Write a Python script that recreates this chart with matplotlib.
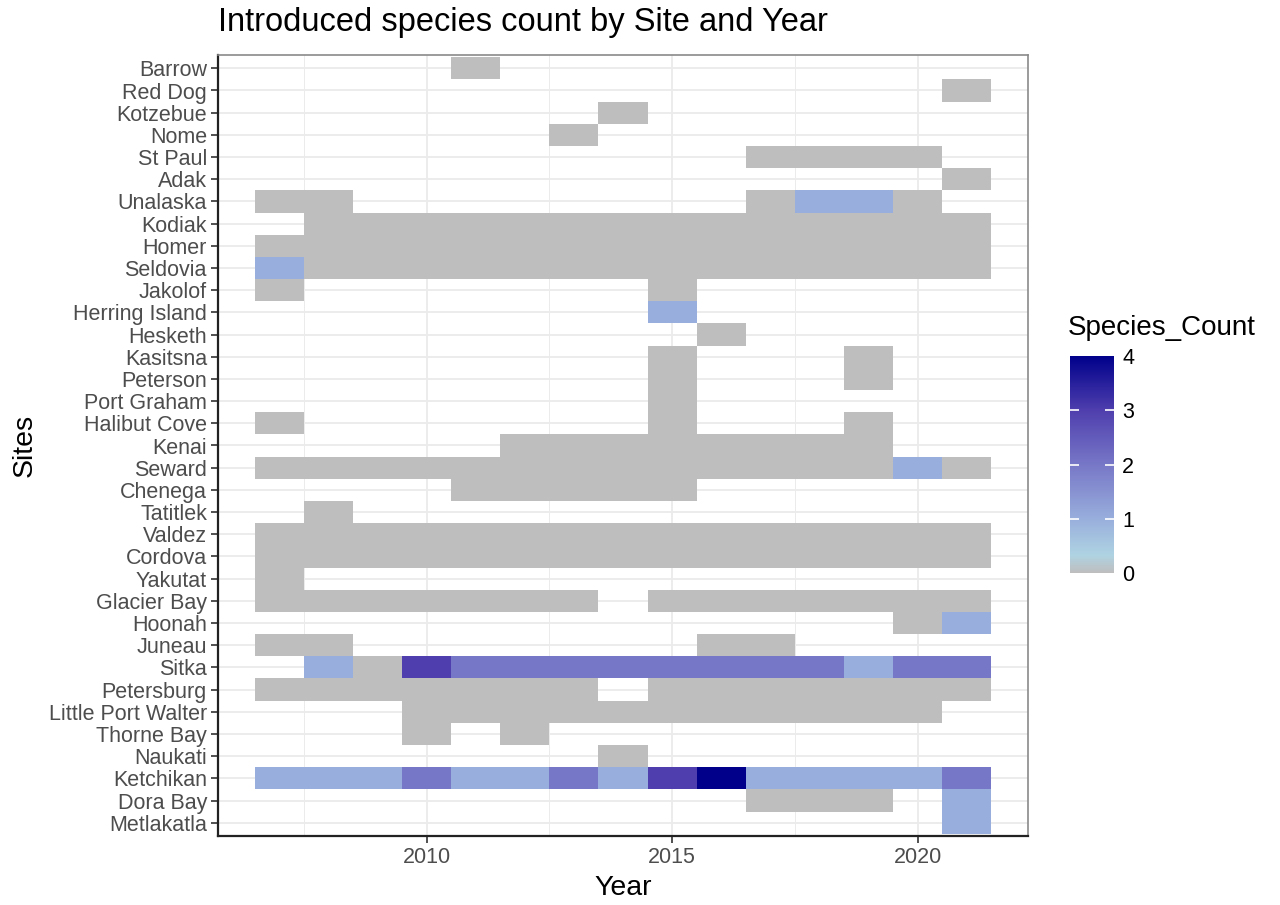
import matplotlib
matplotlib.use("Agg")
import matplotlib.pyplot as plt
import numpy as np
from matplotlib.colors import LinearSegmentedColormap

plt.rcParams['font.family'] = ['Liberation Sans', 'DejaVu Sans']

years = list(range(2007, 2022))
sites = ['Barrow', 'Red Dog', 'Kotzebue', 'Nome', 'St Paul', 'Adak', 'Unalaska',
         'Kodiak', 'Homer', 'Seldovia', 'Jakolof', 'Herring Island', 'Hesketh',
         'Kasitsna', 'Peterson', 'Port Graham', 'Halibut Cove', 'Kenai', 'Seward',
         'Chenega', 'Tatitlek', 'Valdez', 'Cordova', 'Yakutat', 'Glacier Bay',
         'Hoonah', 'Juneau', 'Sitka', 'Petersburg', 'Little Port Walter',
         'Thorne Bay', 'Naukati', 'Ketchikan', 'Dora Bay', 'Metlakatla']

_ = None
# species count per site, columns 2007 ... 2021 (None = not sampled)
counts = [
    [_, _, _, _, 0, _, _, _, _, _, _, _, _, _, _],  # Barrow
    [_, _, _, _, _, _, _, _, _, _, _, _, _, _, 0],  # Red Dog
    [_, _, _, _, _, _, _, 0, _, _, _, _, _, _, _],  # Kotzebue
    [_, _, _, _, _, _, 0, _, _, _, _, _, _, _, _],  # Nome
    [_, _, _, _, _, _, _, _, _, _, 0, 0, 0, 0, _],  # St Paul
    [_, _, _, _, _, _, _, _, _, _, _, _, _, _, 0],  # Adak
    [0, 0, _, _, _, _, _, _, _, _, 0, 1, 1, 0, _],  # Unalaska
    [_, 0, 0, 0, 0, 0, 0, 0, 0, 0, 0, 0, 0, 0, 0],  # Kodiak
    [0, 0, 0, 0, 0, 0, 0, 0, 0, 0, 0, 0, 0, 0, 0],  # Homer
    [1, 0, 0, 0, 0, 0, 0, 0, 0, 0, 0, 0, 0, 0, 0],  # Seldovia
    [0, _, _, _, _, _, _, _, 0, _, _, _, _, _, _],  # Jakolof
    [_, _, _, _, _, _, _, _, 1, _, _, _, _, _, _],  # Herring Island
    [_, _, _, _, _, _, _, _, _, 0, _, _, _, _, _],  # Hesketh
    [_, _, _, _, _, _, _, _, 0, _, _, _, 0, _, _],  # Kasitsna
    [_, _, _, _, _, _, _, _, 0, _, _, _, 0, _, _],  # Peterson
    [_, _, _, _, _, _, _, _, 0, _, _, _, _, _, _],  # Port Graham
    [0, _, _, _, _, _, _, _, 0, _, _, _, 0, _, _],  # Halibut Cove
    [_, _, _, _, _, 0, 0, 0, 0, 0, 0, 0, 0, _, _],  # Kenai
    [0, 0, 0, 0, 0, 0, 0, 0, 0, 0, 0, 0, 0, 1, 0],  # Seward
    [_, _, _, _, 0, 0, 0, 0, 0, _, _, _, _, _, _],  # Chenega
    [_, 0, _, _, _, _, _, _, _, _, _, _, _, _, _],  # Tatitlek
    [0, 0, 0, 0, 0, 0, 0, 0, 0, 0, 0, 0, 0, 0, 0],  # Valdez
    [0, 0, 0, 0, 0, 0, 0, 0, 0, 0, 0, 0, 0, 0, 0],  # Cordova
    [0, _, _, _, _, _, _, _, _, _, _, _, _, _, _],  # Yakutat
    [0, 0, 0, 0, 0, 0, 0, _, 0, 0, 0, 0, 0, 0, 0],  # Glacier Bay
    [_, _, _, _, _, _, _, _, _, _, _, _, _, 0, 1],  # Hoonah
    [0, 0, _, _, _, _, _, _, _, 0, 0, _, _, _, _],  # Juneau
    [_, 1, 0, 3, 2, 2, 2, 2, 2, 2, 2, 2, 1, 2, 2],  # Sitka
    [0, 0, 0, 0, 0, 0, 0, _, 0, 0, 0, 0, 0, 0, 0],  # Petersburg
    [_, _, _, 0, 0, 0, 0, 0, 0, 0, 0, 0, 0, 0, _],  # Little Port Walter
    [_, _, _, 0, _, 0, _, _, _, _, _, _, _, _, _],  # Thorne Bay
    [_, _, _, _, _, _, _, 0, _, _, _, _, _, _, _],  # Naukati
    [1, 1, 1, 2, 1, 1, 2, 1, 3, 4, 1, 1, 1, 1, 2],  # Ketchikan
    [_, _, _, _, _, _, _, _, _, _, 0, 0, 0, _, 1],  # Dora Bay
    [_, _, _, _, _, _, _, _, _, _, _, _, _, _, 1],  # Metlakatla
]

z = np.array([[np.nan if v is None else v for v in row] for row in counts], dtype=float)
z = np.ma.masked_invalid(z)

cmap = LinearSegmentedColormap.from_list('spc', [
    (0.0, '#BEBEBE'), (0.08, '#AFD3E2'), (0.25, '#98AEDC'),
    (0.5, '#7777C7'), (0.75, '#4F3FAE'), (1.0, '#00008B')])

fig = plt.figure(figsize=(12.8, 9.05), dpi=100)
ax = fig.add_axes([218/1280, 1 - 836/905, 810/1280, 781/905])

n = len(sites)
xe = np.arange(years[0] - 0.5, years[-1] + 1.0, 1.0)
ye = np.arange(-0.5, n, 1.0)
mesh = ax.pcolormesh(xe, ye, z, cmap=cmap, vmin=0, vmax=4, zorder=1)

ax.set_xlim(2005.75, 2022.25)
ax.set_ylim(n - 0.4, -0.6)

ax.set_yticks(np.arange(n))
ax.set_yticklabels(sites)
ax.set_xticks([2010, 2015, 2020])
ax.set_xticks([2007.5, 2012.5, 2017.5], minor=True)
ax.set_axisbelow(True)
ax.grid(which='major', color='#EBEBEB', linewidth=1.3, zorder=0)
ax.grid(which='minor', axis='x', color='#EBEBEB', linewidth=0.7, zorder=0)
ax.tick_params(axis='both', which='major', labelsize=15.5, labelcolor='#4D4D4D',
               color='#333333', length=5, width=1.2, pad=3)
ax.tick_params(axis='x', which='minor', length=0)

for s in ['top', 'right']:
    ax.spines[s].set_color('#8A8A8A')
    ax.spines[s].set_linewidth(1.2)
for s in ['left', 'bottom']:
    ax.spines[s].set_color('#222222')
    ax.spines[s].set_linewidth(1.6)

ax.set_xlabel('Year', fontsize=20.5, labelpad=5)
ax.set_ylabel('Sites', fontsize=20.5, labelpad=8)
fig.text(218/1280, 1 - 23/905, 'Introduced species count by Site and Year',
         fontsize=23.5, ha='left', va='center')

cax = fig.add_axes([1070/1280, 1 - 573/905, 44/1280, 217/905])
cb = fig.colorbar(mesh, cax=cax, ticks=[0, 1, 2, 3, 4])
cb.outline.set_visible(False)
cb.ax.tick_params(length=0, labelsize=15.5, pad=6)
for t in [1, 2, 3]:
    cax.hlines(t, 0, 0.2, colors='white', linewidth=1.2)
    cax.hlines(t, 0.8, 1.0, colors='white', linewidth=1.2)
fig.text(1068/1280, 1 - 328/905, 'Species_Count', fontsize=20, ha='left', va='center')

fig.savefig('out.png', dpi=100)
